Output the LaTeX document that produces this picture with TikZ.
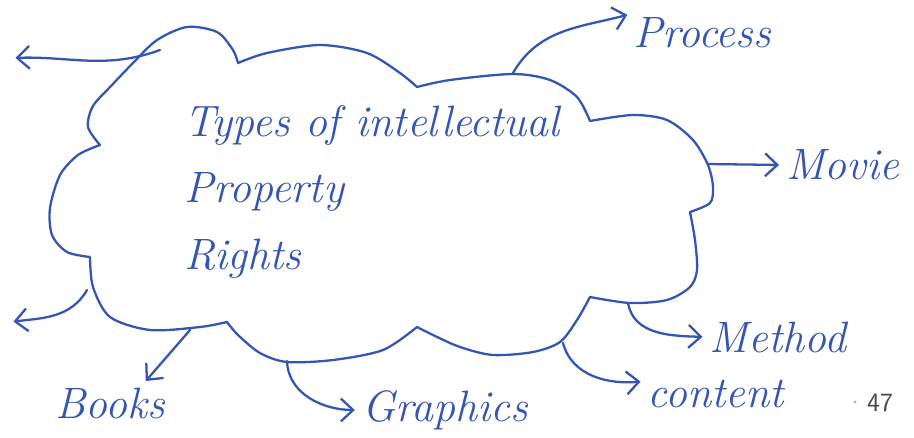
\documentclass[tikz,border=0pt]{standalone}
\usepackage{tikz}
\usetikzlibrary{arrows.meta, positioning}
\definecolor{ink}{RGB}{52,86,178}
\definecolor{pagegray}{RGB}{70,70,70}
\tikzset{
    cloudline/.style={draw=ink, line width=1.3pt, line cap=round, line join=round},
    arr/.style={cloudline, -{Straight Barb[length=7pt, width=13pt]}, shorten >=2pt},
    lbl/.style={text=ink, font=\fontsize{25}{28}\selectfont\itshape, inner sep=2pt},
    title/.style={text=ink, font=\fontsize{25}{36}\selectfont\itshape, align=left},
}
\begin{document}
\begin{tikzpicture}[x=0.02cm, y=-0.02cm]
    \useasboundingbox (0,0) rectangle (914,437);

    \draw[cloudline]
        plot[smooth] coordinates {(100,145) (88,127) (93,106) (112,85) (133,63) (157,40) (187,27) (217,32) (233,50) (238,63)}
     -- plot[smooth] coordinates {(238,63) (267,53) (320,45) (367,53) (400,73) (417,87)}
     -- plot[smooth] coordinates {(417,87) (450,80) (513,74) (550,80) (577,97) (590,121)}
     -- plot[smooth] coordinates {(590,121) (633,115) (667,120) (693,140) (708,165) (713,187) (710,203) (690,212)}
     -- plot[smooth] coordinates {(690,212) (695,240) (697,270) (690,287) (667,300) (630,303) (590,297)}
     -- plot[smooth] coordinates {(590,297) (577,320) (560,342) (533,352) (493,355) (460,347) (433,335) (417,327)}
     -- plot[smooth] coordinates {(417,327) (383,350) (333,360) (287,362) (260,353) (238,335) (227,322)}
     -- plot[smooth] coordinates {(227,322) (200,327) (150,330) (110,317) (93,287) (90,257)}
     -- plot[smooth] coordinates {(90,257) (67,252) (52,235) (50,208) (60,175) (78,155) (100,145)}
     -- cycle;

    \node[title, font=\fontsize{25}{38}\selectfont\itshape] (ipr) at (372,192) {Types of intellectual\\Property\\Rights};

    \node[lbl] (process) at (702,33) {Process};
    \node[lbl] (movie) at (843,165) {Movie};
    \node[lbl] (method) at (778,337) {Method};
    \node[lbl] (content) at (716,394) {content};
    \node[lbl] (graphics) at (445,410) {Graphics};
    \node[lbl] (books) at (110,403) {Books};
    \node[text=pagegray, font=\sffamily\fontsize{15}{18}\selectfont] (page) at (880,403) {47};
    \fill[pagegray!40] (855,402) circle (1.6);

    \coordinate (tl) at (160,50);
    \coordinate (tlend) at (12,58);
    \coordinate (bl) at (87,290);
    \coordinate (blend) at (10,322);
    \coordinate (pproc) at (513,73);
    \coordinate (pmov) at (708,164);
    \coordinate (pmeth) at (628,303);
    \coordinate (pcont) at (563,343);
    \coordinate (pgra) at (287,361);
    \coordinate (pbook) at (190,330);

    \draw[arr] (tl) to[out=200, in=2] (tlend);
    \draw[arr] (bl) to[out=240, in=7] (blend);
    \draw[arr] (pproc) to[out=60, in=195] (process.165);
    \draw[arr] (pmov) -- (movie.west);
    \draw[arr] (pmeth) to[out=-80, in=178] (method.west);
    \draw[arr] (pcont) to[out=-75, in=185] (content.170);
    \draw[arr] (pgra) to[out=-88, in=180] (graphics.west);
    \draw[arr] (pbook) -- (books.30);
\end{tikzpicture}
\end{document}
